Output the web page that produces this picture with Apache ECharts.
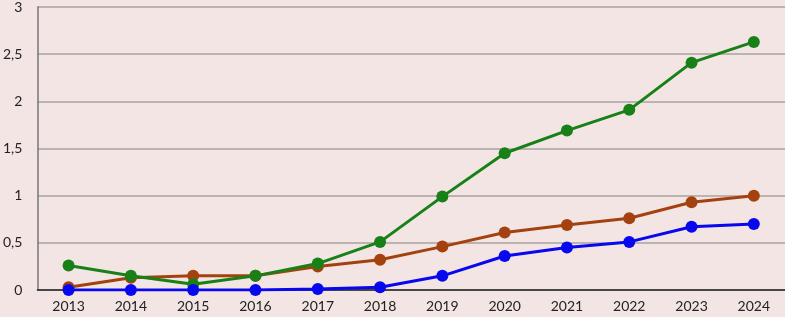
<!DOCTYPE html>
<html>
<head>
<meta charset="utf-8">
<script src="https://cdn.jsdelivr.net/npm/echarts@6/dist/echarts.min.js"></script>
<style>
  html, body { margin: 0; padding: 0; background: #f4e5e5; }
  #chart { width: 785px; height: 317px; }
</style>
</head>
<body>
<div id="chart"></div>
<script>
// 年份
var years = ['2013', '2014', '2015', '2016', '2017', '2018', '2019', '2020', '2021', '2022', '2023', '2024'];
// 三条线的数据
var greenData = [0.26, 0.15, 0.06, 0.15, 0.28, 0.51, 0.99, 1.45, 1.69, 1.91, 2.41, 2.63];
var brownData = [0.03, 0.13, 0.15, 0.15, 0.25, 0.32, 0.46, 0.61, 0.69, 0.76, 0.93, 1.0];
var blueData = [0.0, 0.0, 0.0, 0.0, 0.01, 0.03, 0.15, 0.36, 0.45, 0.51, 0.67, 0.70];

var chart = echarts.init(document.getElementById('chart'));

function lineSeries(name, color, data) {
    return {
        name: name,
        type: 'line',
        symbol: 'circle',
        symbolSize: 12,
        lineStyle: { color: color, width: 3 },
        itemStyle: { color: color },
        data: data
    };
}

var option = {
    backgroundColor: '#f4e5e5',
    animation: false,
    textStyle: { fontFamily: 'Lato' },
    grid: { left: 36, right: 0, top: 6, bottom: 27 },
    xAxis: {
        type: 'category',
        data: years,
        boundaryGap: true,
        axisLine: { show: true, lineStyle: { color: '#222', width: 1.5 } },
        axisTick: { show: false },
        axisLabel: { color: '#222', fontSize: 14, margin: 9 }
    },
    yAxis: {
        type: 'value',
        min: 0,
        max: 3,
        interval: 0.5,
        axisLine: { show: true, lineStyle: { color: '#777', width: 1.5 } },
        axisTick: { show: false },
        axisLabel: {
            color: '#222',
            fontSize: 14,
            margin: 15,
            formatter: function (v) { return String(v).replace('.', ','); }
        },
        splitLine: { show: true, lineStyle: { color: '#a8a0a0', width: 1.5 } }
    },
    series: [
        lineSeries('brown', '#a3420f', brownData),
        lineSeries('green', '#178117', greenData),
        lineSeries('blue', '#0808ee', blueData)
    ]
};
chart.setOption(option);
</script>
</body>
</html>
